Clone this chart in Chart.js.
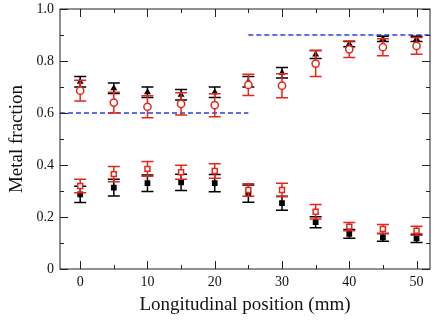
<!DOCTYPE html>
<html>
<head>
<meta charset="utf-8">
<script src="https://cdn.jsdelivr.net/npm/chart.js@4"></script>
<style>
  html, body { margin: 0; padding: 0; background: #fff; }
  #wrap { width: 437px; height: 324px; }
</style>
</head>
<body>
<div id="wrap"><canvas id="chart"></canvas></div>
<script>
const positions = [0, 5, 10, 15, 20, 25, 30, 35, 40, 45, 50];

const upperBlack    = [0.72, 0.695, 0.68, 0.67, 0.68, 0.72, 0.755, 0.825, 0.865, 0.885, 0.885];
const upperBlackErr = [0.02, 0.02, 0.02, 0.02, 0.02, 0.02, 0.02, 0.015, 0.01, 0.01, 0.01];
const upperRed      = [0.686, 0.64, 0.624, 0.635, 0.63, 0.708, 0.705, 0.79, 0.845, 0.853, 0.858];
const upperRedErr   = [0.04, 0.04, 0.042, 0.043, 0.044, 0.041, 0.046, 0.05, 0.032, 0.033, 0.032];

const lowerBlack    = [0.287, 0.313, 0.33, 0.333, 0.33, 0.29, 0.253, 0.18, 0.135, 0.122, 0.118];
const lowerBlackErr = [0.031, 0.032, 0.032, 0.031, 0.033, 0.033, 0.027, 0.021, 0.017, 0.015, 0.016];
const lowerRed      = [0.319, 0.365, 0.385, 0.372, 0.377, 0.304, 0.304, 0.22, 0.163, 0.154, 0.147];
const lowerRedErr   = [0.026, 0.029, 0.028, 0.027, 0.028, 0.024, 0.026, 0.028, 0.016, 0.017, 0.017];

// nominal composition steps (blue dashed)
const stepLowX = [-3, 25];
const stepLowY = [0.6, 0.6];
const stepHighX = [25, 52];
const stepHighY = [0.9, 0.9];

const xTicks = [0, 10, 20, 30, 40, 50];
const xMinor = [5, 15, 25, 35, 45];
const yTicks = [0, 0.2, 0.4, 0.6, 0.8, 1.0];
const yMinor = [0.1, 0.3, 0.5, 0.7, 0.9];

const toPts = (xs, ys) => xs.map((x, i) => ({ x: x, y: ys[i] }));

function markerSet(label, vals, errs, color, style, filled, radius, order) {
  return {
    type: 'scatter',
    label: label,
    data: toPts(positions, vals),
    errors: errs,
    borderColor: color,
    backgroundColor: filled ? color : '#ffffff',
    pointStyle: style,
    pointRadius: radius,
    pointHoverRadius: radius,
    pointBorderWidth: 1.5,
    order: order
  };
}

// error bars, drawn just before each dataset's markers
const errorBars = {
  id: 'errorBars',
  beforeDatasetDraw(chart, args) {
    const ds = chart.data.datasets[args.index];
    if (!ds.errors) return;
    const { ctx, scales: { x, y } } = chart;
    ctx.save();
    ctx.strokeStyle = ds.borderColor;
    ctx.lineWidth = 1.5;
    ds.data.forEach((p, i) => {
      const px = x.getPixelForValue(p.x);
      const top = y.getPixelForValue(p.y + ds.errors[i]);
      const bot = y.getPixelForValue(p.y - ds.errors[i]);
      ctx.beginPath();
      ctx.moveTo(px, top); ctx.lineTo(px, bot);
      ctx.moveTo(px - 6, top); ctx.lineTo(px + 6, top);
      ctx.moveTo(px - 6, bot); ctx.lineTo(px + 6, bot);
      ctx.stroke();
    });
    ctx.restore();
  }
};

// frame with inward ticks on all four sides
const frame = {
  id: 'frame',
  afterDraw(chart) {
    const { ctx, chartArea: a, scales: { x, y } } = chart;
    ctx.save();
    ctx.strokeStyle = '#222';
    ctx.lineWidth = 1;
    ctx.strokeRect(a.left, a.top, a.right - a.left, a.bottom - a.top);
    ctx.beginPath();
    const tick = (vals, len) => {
      vals.forEach(v => {
        const px = Math.round(x.getPixelForValue(v)) + 0.5;
        ctx.moveTo(px, a.bottom); ctx.lineTo(px, a.bottom - len);
        ctx.moveTo(px, a.top); ctx.lineTo(px, a.top + len);
      });
    };
    const ytick = (vals, len) => {
      vals.forEach(v => {
        const py = Math.round(y.getPixelForValue(v)) + 0.5;
        ctx.moveTo(a.left, py); ctx.lineTo(a.left + len, py);
        ctx.moveTo(a.right, py); ctx.lineTo(a.right - len, py);
      });
    };
    tick(xTicks, 8); tick(xMinor, 4);
    ytick(yTicks, 8); ytick(yMinor, 4);
    ctx.stroke();
    ctx.restore();
  }
};

const tickFont = { family: 'Liberation Serif', size: 14 };
const titleFont = { family: 'Liberation Serif', size: 19 };

new Chart(document.getElementById('chart'), {
  type: 'scatter',
  data: {
    datasets: [
      {
        type: 'line', label: 'nominal low', data: toPts(stepLowX, stepLowY),
        borderColor: '#2a3fe0', borderWidth: 1.5, borderDash: [5, 3],
        pointRadius: 0, fill: false, order: 10
      },
      {
        type: 'line', label: 'nominal high', data: toPts(stepHighX, stepHighY),
        borderColor: '#2a3fe0', borderWidth: 1.5, borderDash: [5, 3],
        pointRadius: 0, fill: false, order: 10
      },
      markerSet('upper black', upperBlack, upperBlackErr, '#000000', 'triangle', true, 2.5, 4),
      markerSet('lower black', lowerBlack, lowerBlackErr, '#000000', 'rect', true, 3, 3),
      markerSet('upper red', upperRed, upperRedErr, '#e8251b', 'circle', false, 3.6, 2),
      markerSet('lower red', lowerRed, lowerRedErr, '#e8251b', 'rect', false, 3.5, 1)
    ]
  },
  options: {
    responsive: true,
    maintainAspectRatio: false,
    animation: false,
    layout: { padding: { top: 9, right: 7, left: 2, bottom: 0 } },
    plugins: {
      legend: { display: false },
      tooltip: { enabled: false }
    },
    scales: {
      x: {
        type: 'linear',
        min: -3,
        max: 52,
        afterBuildTicks: s => { s.ticks = xTicks.map(v => ({ value: v })); },
        afterFit: s => { s.height = 55; s.paddingLeft = 0; s.paddingRight = 0; },
        grid: { display: false, drawTicks: false },
        border: { display: false },
        ticks: { font: tickFont, color: '#111', padding: 5 },
        title: { display: true, text: 'Longitudinal position (mm)', font: titleFont, color: '#111', padding: { top: 0, bottom: 8 } }
      },
      y: {
        min: 0,
        max: 1,
        afterBuildTicks: s => { s.ticks = yTicks.map(v => ({ value: v })); },
        afterFit: s => { s.width = 58; s.paddingTop = 0; s.paddingBottom = 0; },
        grid: { display: false, drawTicks: false },
        border: { display: false },
        ticks: {
          font: tickFont, color: '#111', padding: 6,
          callback: v => (v === 0 ? '0' : v.toFixed(1))
        },
        title: { display: true, text: 'Metal fraction', font: titleFont, color: '#111', padding: { bottom: 2 } }
      }
    }
  },
  plugins: [errorBars, frame]
});
</script>
</body>
</html>
